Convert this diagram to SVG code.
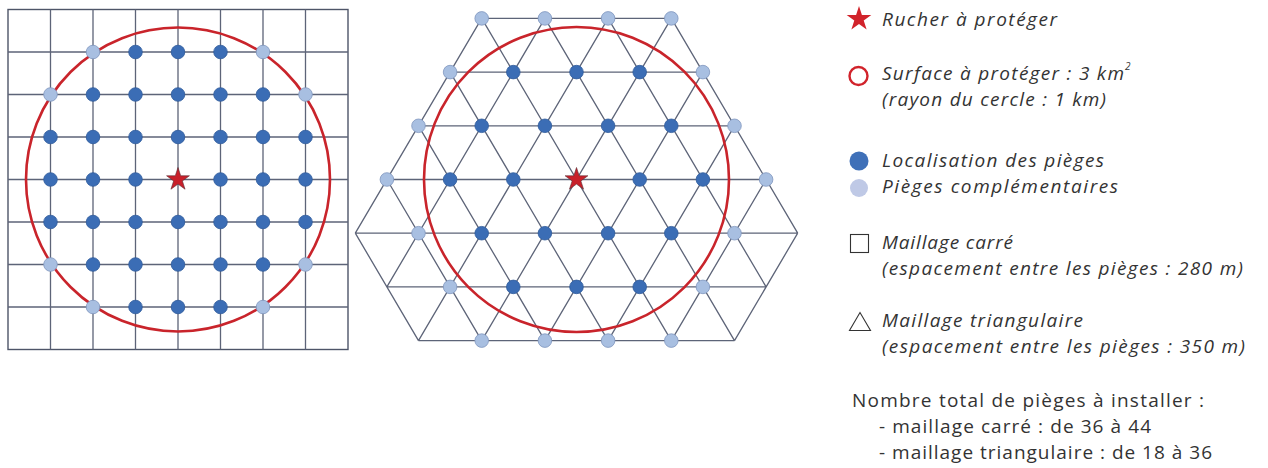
<svg xmlns="http://www.w3.org/2000/svg" width="1268" height="468" viewBox="0 0 1268 468">
<style>
.grid{stroke:#5d6478;stroke-width:1.3;fill:none}
.border{stroke:#4e5568;stroke-width:1.4;fill:none}
.zone{stroke:#c9242b;stroke-width:2.6;fill:none}
.d{fill:#3b6db5;stroke:#2e5a9b;stroke-width:0.8}
.l{fill:#a8bfe1;stroke:#7f96be;stroke-width:0.8}
.star{fill:#c8202a;stroke:#5a2a30;stroke-width:0.6}
.t{font-family:"Open Sans","Noto Sans",sans-serif;font-size:19px;fill:#333333}
.i{font-style:italic}
.sup{font-size:10px}
</style>
<defs>
<path id="star" d="M0,-12 L2.7,-3.72 L11.41,-3.71 L4.37,1.42 L7.05,9.71 L0,4.6 L-7.05,9.71 L-4.37,1.42 L-11.41,-3.71 L-2.7,-3.72 Z"/>
</defs>

<g id="square-mesh">
<rect class="border" x="8" y="9.5" width="340" height="340"/>
<path class="grid" d="M50.5,9.5V349.5M93,9.5V349.5M135.5,9.5V349.5M178,9.5V349.5M220.5,9.5V349.5M263,9.5V349.5M305.5,9.5V349.5M8,52H348M8,94.5H348M8,137H348M8,179.5H348M8,222H348M8,264.5H348M8,307H348"/>
<circle class="zone" cx="178" cy="179.5" r="152"/>
<g id="square-traps">
<circle class="l" cx="93" cy="52" r="6.8"/><circle class="d" cx="135.5" cy="52" r="6.8"/><circle class="d" cx="178" cy="52" r="6.8"/><circle class="d" cx="220.5" cy="52" r="6.8"/><circle class="l" cx="263" cy="52" r="6.8"/>
<circle class="l" cx="50.5" cy="94.5" r="6.8"/><circle class="d" cx="93" cy="94.5" r="6.8"/><circle class="d" cx="135.5" cy="94.5" r="6.8"/><circle class="d" cx="178" cy="94.5" r="6.8"/><circle class="d" cx="220.5" cy="94.5" r="6.8"/><circle class="d" cx="263" cy="94.5" r="6.8"/><circle class="l" cx="305.5" cy="94.5" r="6.8"/>
<circle class="d" cx="50.5" cy="137" r="6.8"/><circle class="d" cx="93" cy="137" r="6.8"/><circle class="d" cx="135.5" cy="137" r="6.8"/><circle class="d" cx="178" cy="137" r="6.8"/><circle class="d" cx="220.5" cy="137" r="6.8"/><circle class="d" cx="263" cy="137" r="6.8"/><circle class="d" cx="305.5" cy="137" r="6.8"/>
<circle class="d" cx="50.5" cy="179.5" r="6.8"/><circle class="d" cx="93" cy="179.5" r="6.8"/><circle class="d" cx="135.5" cy="179.5" r="6.8"/><circle class="d" cx="220.5" cy="179.5" r="6.8"/><circle class="d" cx="263" cy="179.5" r="6.8"/><circle class="d" cx="305.5" cy="179.5" r="6.8"/>
<circle class="d" cx="50.5" cy="222" r="6.8"/><circle class="d" cx="93" cy="222" r="6.8"/><circle class="d" cx="135.5" cy="222" r="6.8"/><circle class="d" cx="178" cy="222" r="6.8"/><circle class="d" cx="220.5" cy="222" r="6.8"/><circle class="d" cx="263" cy="222" r="6.8"/><circle class="d" cx="305.5" cy="222" r="6.8"/>
<circle class="l" cx="50.5" cy="264.5" r="6.8"/><circle class="d" cx="93" cy="264.5" r="6.8"/><circle class="d" cx="135.5" cy="264.5" r="6.8"/><circle class="d" cx="178" cy="264.5" r="6.8"/><circle class="d" cx="220.5" cy="264.5" r="6.8"/><circle class="d" cx="263" cy="264.5" r="6.8"/><circle class="l" cx="305.5" cy="264.5" r="6.8"/>
<circle class="l" cx="93" cy="307" r="6.8"/><circle class="d" cx="135.5" cy="307" r="6.8"/><circle class="d" cx="178" cy="307" r="6.8"/><circle class="d" cx="220.5" cy="307" r="6.8"/><circle class="l" cx="263" cy="307" r="6.8"/>
</g>
<use id="square-apiary" href="#star" class="star" x="178" y="179.5"/>
</g>

<g id="triangle-mesh">
<path class="grid" d="M481.7,18.4H671.3M450.1,72.1H702.9M418.5,125.8H734.5M386.9,179.5H766.1M355.3,233.2H797.7M386.9,286.9H766.1M418.5,340.6H734.5
M671.3,18.4L797.7,233.2M608.1,18.4L766.1,286.9M544.9,18.4L734.5,340.6M481.7,18.4L671.3,340.6M450.1,72.1L608.1,340.6M418.5,125.8L544.9,340.6M386.9,179.5L481.7,340.6M355.3,233.2L418.5,340.6
M481.7,18.4L355.3,233.2M544.9,18.4L386.9,286.9M608.1,18.4L418.5,340.6M671.3,18.4L481.7,340.6M702.9,72.1L544.9,340.6M734.5,125.8L608.1,340.6M766.1,179.5L671.3,340.6M797.7,233.2L734.5,340.6"/>
<circle class="zone" cx="576.5" cy="179.5" r="152.5"/>
<g id="triangle-traps">
<circle class="l" cx="481.7" cy="18.4" r="6.8"/><circle class="l" cx="544.9" cy="18.4" r="6.8"/><circle class="l" cx="608.1" cy="18.4" r="6.8"/><circle class="l" cx="671.3" cy="18.4" r="6.8"/>
<circle class="l" cx="450.1" cy="72.1" r="6.8"/><circle class="d" cx="513.3" cy="72.1" r="6.8"/><circle class="d" cx="576.5" cy="72.1" r="6.8"/><circle class="d" cx="639.7" cy="72.1" r="6.8"/><circle class="l" cx="702.9" cy="72.1" r="6.8"/>
<circle class="l" cx="418.5" cy="125.8" r="6.8"/><circle class="d" cx="481.7" cy="125.8" r="6.8"/><circle class="d" cx="544.9" cy="125.8" r="6.8"/><circle class="d" cx="608.1" cy="125.8" r="6.8"/><circle class="d" cx="671.3" cy="125.8" r="6.8"/><circle class="l" cx="734.5" cy="125.8" r="6.8"/>
<circle class="l" cx="386.9" cy="179.5" r="6.8"/><circle class="d" cx="450.1" cy="179.5" r="6.8"/><circle class="d" cx="513.3" cy="179.5" r="6.8"/><circle class="d" cx="639.7" cy="179.5" r="6.8"/><circle class="d" cx="702.9" cy="179.5" r="6.8"/><circle class="l" cx="766.1" cy="179.5" r="6.8"/>
<circle class="l" cx="418.5" cy="233.2" r="6.8"/><circle class="d" cx="481.7" cy="233.2" r="6.8"/><circle class="d" cx="544.9" cy="233.2" r="6.8"/><circle class="d" cx="608.1" cy="233.2" r="6.8"/><circle class="d" cx="671.3" cy="233.2" r="6.8"/><circle class="l" cx="734.5" cy="233.2" r="6.8"/>
<circle class="l" cx="450.1" cy="286.9" r="6.8"/><circle class="d" cx="513.3" cy="286.9" r="6.8"/><circle class="d" cx="576.5" cy="286.9" r="6.8"/><circle class="d" cx="639.7" cy="286.9" r="6.8"/><circle class="l" cx="702.9" cy="286.9" r="6.8"/>
<circle class="l" cx="481.7" cy="340.6" r="6.8"/><circle class="l" cx="544.9" cy="340.6" r="6.8"/><circle class="l" cx="608.1" cy="340.6" r="6.8"/><circle class="l" cx="671.3" cy="340.6" r="6.8"/>
</g>
<use id="triangle-apiary" href="#star" class="star" x="576.5" y="179.5"/>
</g>

<g id="legend">
<g id="legend-apiary">
<use href="#star" x="859" y="19" style="fill:#d1232b;stroke:none" transform="translate(859 19) scale(1.08) translate(-859 -19)"/>
<text class="t i" x="882" y="26" textLength="175">Rucher à protéger</text>
</g>
<g id="legend-zone">
<circle cx="858.5" cy="76" r="9" fill="none" stroke="#d1232b" stroke-width="2.4"/>
<text class="t i" x="882" y="80" textLength="242">Surface à protéger : 3 km</text>
<text class="t i sup" x="1125" y="70">2</text>
<text class="t i" x="882" y="106" textLength="224">(rayon du cercle : 1 km)</text>
</g>
<g id="legend-traps">
<circle cx="859" cy="161" r="9.5" fill="#3f70b8"/>
<text class="t i" x="882" y="167" textLength="222">Localisation des pièges</text>
<circle cx="859" cy="188" r="9" fill="#bfc9e6"/>
<text class="t i" x="882" y="193" textLength="236">Pièges complémentaires</text>
</g>
<g id="legend-square">
<rect x="850.5" y="234.5" width="18" height="18" fill="none" stroke="#333333" stroke-width="1.1"/>
<text class="t i" x="882" y="249" textLength="131">Maillage carré</text>
<text class="t i" x="882" y="275" textLength="361">(espacement entre les pièges : 280 m)</text>
</g>
<g id="legend-triangle">
<path d="M849.5,330.5H870.5L860,312.5Z" fill="none" stroke="#333333" stroke-width="1.1"/>
<text class="t i" x="882" y="327" textLength="201">Maillage triangulaire</text>
<text class="t i" x="882" y="353" textLength="363">(espacement entre les pièges : 350 m)</text>
</g>
<g id="legend-total">
<text class="t" x="852" y="407" textLength="352">Nombre total de pièges à installer :</text>
<text class="t" x="879" y="433" textLength="272">- maillage carré : de 36 à 44</text>
<text class="t" x="879" y="459" textLength="333">- maillage triangulaire : de 18 à 36</text>
</g>
</g>
</svg>
